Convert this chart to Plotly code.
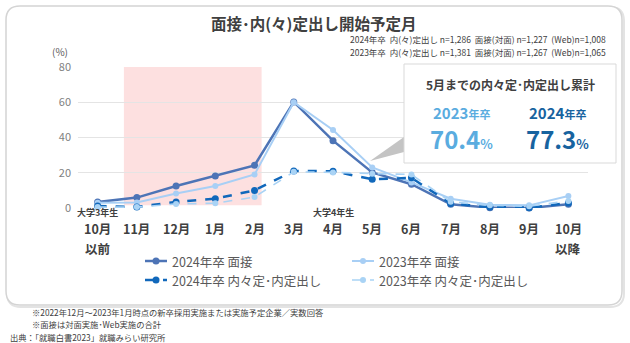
import plotly.graph_objects as go

months = ["10月", "11月", "12月", "1月", "2月", "3月", "4月", "5月", "6月", "7月", "8月", "9月", "10月"]
interview_2024 = [3.4, 5.9, 12.5, 18.2, 24.2, 60.2, 38.2, 20.2, 13.5, 2.1, 0.2, 0.0, 2.1]
interview_2023 = [3.0, 3.1, 8.2, 12.5, 19.0, 60.0, 44.3, 23.0, 14.5, 5.3, 1.9, 1.5, 6.8]
offer_2024 = [1.1, 0.6, 3.4, 5.3, 10.0, 21.0, 20.9, 16.3, 17.1, 2.5, 0.5, 0.2, 2.8]
offer_2023 = [0.5, 0.5, 2.3, 2.7, 6.2, 20.5, 20.2, 19.5, 19.0, 3.5, 1.5, 1.0, 4.0]
series_names = ["2024年卒 面接", "2023年卒 面接", "2024年卒 内々定･内定出し", "2023年卒 内々定･内定出し"]
yticks = [0, 20, 40, 60, 80]

W, H = 630, 343
L, R, T, B = 78, 588, 67, 208
FONT = "Noto Sans CJK JP"


def px(xp):
    return (xp - L) / (R - L)


def py(yp):
    return (B - yp) / (B - T)


x = list(range(len(months)))

fig = go.Figure()
styles = [
    (interview_2024, "#4d74b6", 2.5, "solid", 7),
    (interview_2023, "#a8cff5", 2.0, "solid", 6),
    (offer_2024, "#1168bb", 2.5, "dash", 7),
    (offer_2023, "#a9d3f5", 1.6, "dash", 6),
]
for (vals, col, w, dash, ms), name in zip(styles, series_names):
    fig.add_trace(go.Scatter(
        x=x, y=vals, name=name, mode="lines+markers",
        line=dict(color=col, width=w, dash=dash),
        marker=dict(color=col, size=ms, symbol="circle"),
        cliponaxis=False, showlegend=False,
    ))

shapes = []


def rrect(x0, y0, x1, y1, r):
    pts = [
        f"M {px(x0 + r)} {py(y0)}",
        f"L {px(x1 - r)} {py(y0)}",
        f"Q {px(x1)} {py(y0)} {px(x1)} {py(y0 + r)}",
        f"L {px(x1)} {py(y1 - r)}",
        f"Q {px(x1)} {py(y1)} {px(x1 - r)} {py(y1)}",
        f"L {px(x0 + r)} {py(y1)}",
        f"Q {px(x0)} {py(y1)} {px(x0)} {py(y1 - r)}",
        f"L {px(x0)} {py(y0 + r)}",
        f"Q {px(x0)} {py(y0)} {px(x0 + r)} {py(y0)}",
        "Z",
    ]
    return " ".join(pts)


# outer rounded frame (shadow + border)
shapes.append(dict(type="path", xref="paper", yref="paper", path=rrect(7, 7, 624, 307, 14),
                   line=dict(color="#e3e3e3", width=2), fillcolor="rgba(0,0,0,0)", layer="below"))
shapes.append(dict(type="path", xref="paper", yref="paper", path=rrect(6, 6, 622, 305, 14),
                   line=dict(color="#d4d4d4", width=1.5), fillcolor="white", layer="below"))
# pink highlight region
shapes.append(dict(type="rect", xref="x", yref="y", x0=0.67, x1=4.18, y0=1.5, y1=82,
                   fillcolor="#fde0e0", line=dict(width=0), layer="below"))
# callout pointer
shapes.append(dict(type="path", xref="paper", yref="paper",
                   path=f"M {px(370)} {py(161)} L {px(404)} {py(137)} L {px(404)} {py(152)} Z",
                   fillcolor="#c4c4c4", line=dict(width=0), layer="above"))
# callout box
shapes.append(dict(type="rect", xref="paper", yref="paper", x0=px(404), x1=px(616), y0=py(64), y1=py(163),
                   fillcolor="white", line=dict(color="#d9d9d9", width=1), layer="above"))

ann = []


def text(xp, yp, s, size, color="#404040", bold=False, xanchor="center", yanchor="middle"):
    if bold:
        s = f"<b>{s}</b>"
    ann.append(dict(x=px(xp), y=py(yp), xref="paper", yref="paper", text=s, showarrow=False,
                    font=dict(size=size, color=color, family=FONT), xanchor=xanchor, yanchor=yanchor))


text(313, 23, "面接･内(々)定出し開始予定月", 15.5, "#404040", True)
text(608, 39, "2024年卒  内(々)定出し n=1,286  面接(対面) n=1,227  (Web)n=1,008", 8.5, "#404040", xanchor="right")
text(608, 52, "2023年卒  内(々)定出し n=1,381  面接(対面) n=1,267  (Web)n=1,065", 8.5, "#404040", xanchor="right")
text(60, 52, "(%)", 10, "#595959")

# month tick labels
for i, m in enumerate(months):
    ann.append(dict(x=i, y=py(228.5), xref="x", yref="paper", text=f"<b>{m}</b>", showarrow=False,
                    font=dict(size=12.5, color="#404040", family=FONT), xanchor="center", yanchor="middle"))
ann.append(dict(x=0, y=py(249), xref="x", yref="paper", text="<b>以前</b>", showarrow=False,
                font=dict(size=12.5, color="#404040", family=FONT), xanchor="center", yanchor="middle"))
ann.append(dict(x=12, y=py(249), xref="x", yref="paper", text="<b>以降</b>", showarrow=False,
                font=dict(size=12.5, color="#404040", family=FONT), xanchor="center", yanchor="middle"))
ann.append(dict(x=0, y=py(212), xref="x", yref="paper", text="<b>大学3年生</b>", showarrow=False,
                font=dict(size=9, color="#404040", family=FONT), xanchor="center", yanchor="middle"))
ann.append(dict(x=6, y=py(212), xref="x", yref="paper", text="<b>大学4年生</b>", showarrow=False,
                font=dict(size=9, color="#404040", family=FONT), xanchor="center", yanchor="middle"))

# callout texts
text(510, 84, "5月までの内々定･内定出し累計", 12, "#404040", True)
text(461, 112, "<b><span style='font-size:15px'>2023</span><span style='font-size:11px'>年卒</span></b>", 15, "#5aacdf")
text(461, 138, "<b><span style='font-size:24px'>70.4</span><span style='font-size:13px'>%</span></b>", 22, "#5aacdf")
text(557, 112, "<b><span style='font-size:15px'>2024</span><span style='font-size:11px'>年卒</span></b>", 15, "#17639f")
text(557, 138, "<b><span style='font-size:24px'>77.3</span><span style='font-size:13px'>%</span></b>", 22, "#17639f")

# manual legend (2 x 2 grid)
legend_pos = [(145, 261), (352, 261), (145, 280), (352, 280)]
for (vals, col, w, dash, ms), name, (lx, ly) in zip(styles, series_names, legend_pos):
    shapes.append(dict(type="line", xref="paper", yref="paper", x0=px(lx), x1=px(lx + 22),
                       y0=py(ly), y1=py(ly), line=dict(color=col, width=w, dash="dash" if dash == "dash" else "solid")))
    r = ms / 2
    shapes.append(dict(type="circle", xref="paper", yref="paper", x0=px(lx + 11 - r), x1=px(lx + 11 + r),
                       y0=py(ly - r), y1=py(ly + r), fillcolor=col, line=dict(width=0)))
    text(lx + 25, ly, name, 12.5, "#595959", xanchor="left")

# footnotes
text(30, 312, "※2022年12月～2023年1月時点の新卒採用実施または実施予定企業／実数回答", 8.3, "#404040", xanchor="left")
text(30, 324, "※面接は対面実施･Web実施の合計", 8.3, "#404040", xanchor="left")
text(8, 337, "出典：「就職白書2023」就職みらい研究所", 8.3, "#404040", xanchor="left")

fig.update_layout(
    width=W, height=H,
    margin=dict(l=L, r=W - R, t=T, b=H - B),
    paper_bgcolor="white", plot_bgcolor="rgba(0,0,0,0)",
    font=dict(family=FONT, color="#404040"),
    shapes=shapes, annotations=ann,
    showlegend=False,
    xaxis=dict(range=[-0.5, 12.5], tickvals=x, showticklabels=False, showgrid=False,
               zeroline=False, showline=False, ticks=""),
    yaxis=dict(range=[0, 80], tickvals=yticks, showgrid=True, gridcolor="#e4e4e4", gridwidth=1,
               zeroline=False, showline=False, ticks="", tickfont=dict(size=11, color="#7f7f7f"),
               ticklabelstandoff=6),
)

fig.write_html("out.html")
